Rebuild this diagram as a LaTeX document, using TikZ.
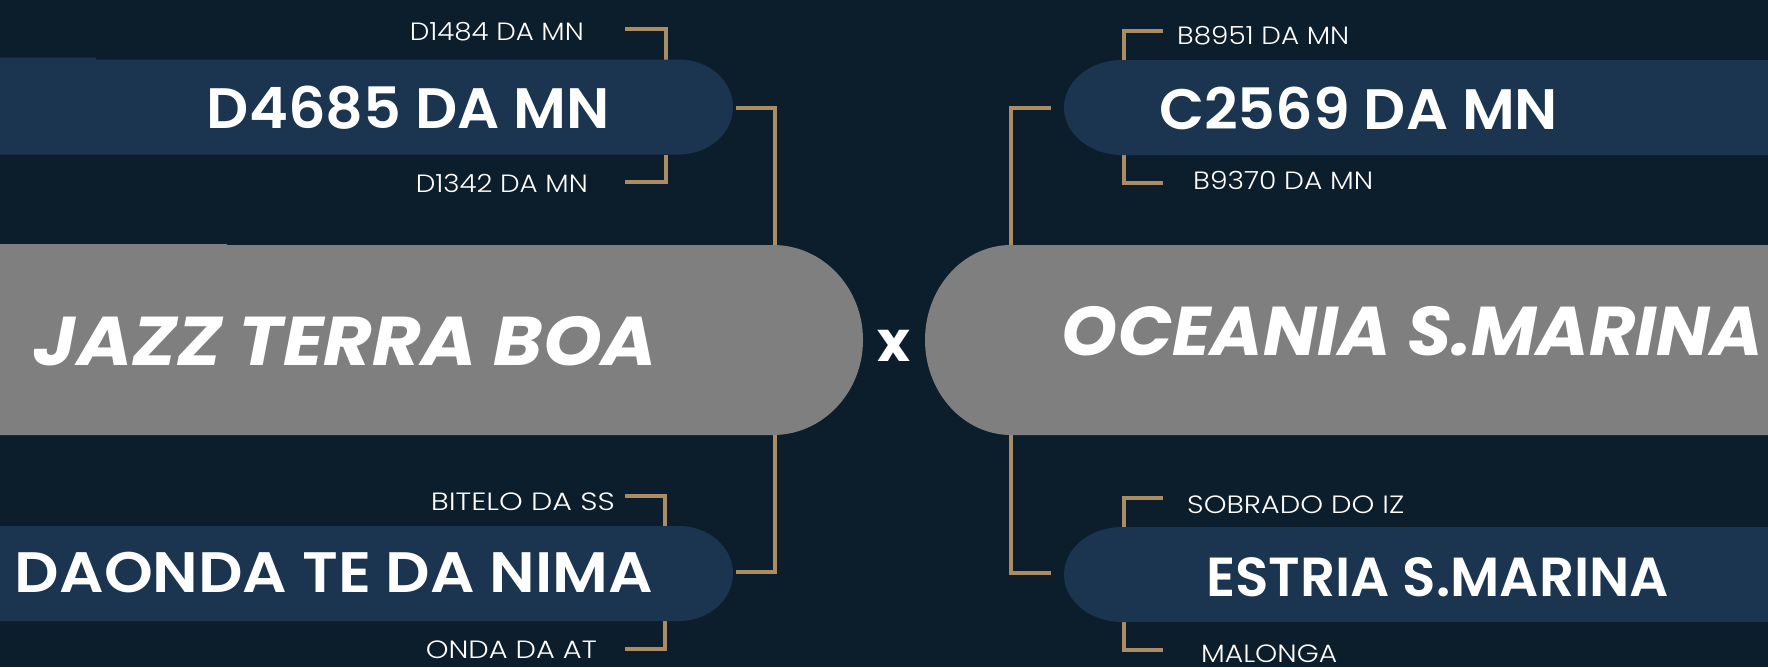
\documentclass[tikz,border=0pt]{standalone}
\usepackage{graphicx}
\usepackage{fontspec}
\setmainfont{Poppins}
\IfFontExistsTF{Poppins Light}{\newfontfamily\lightfont{Poppins Light}}{\newfontfamily\lightfont{Poppins}}
\IfFontExistsTF{Poppins SemiBold}{\newfontfamily\semifont{Poppins SemiBold}}{\newfontfamily\semifont[UprightFont=*-Bold]{Poppins}}
\newcommand{\fitw}[2]{\resizebox{#1pt}{\height}{#2}}
\definecolor{bgnavy}{RGB}{12,30,44}
\definecolor{boxblue}{RGB}{27,53,80}
\definecolor{boxgray}{RGB}{127,127,127}
\definecolor{gold}{RGB}{170,141,98}
\begin{document}
\begin{tikzpicture}[x=1pt,y=-1pt,
  bracket/.style={draw=gold, line width=3.5pt, line join=miter},
  smalllabel/.style={text=white, inner sep=0pt, font=\lightfont\fontsize{25}{25}\selectfont},
  bigname/.style={text=white, inner sep=0pt, font=\semifont\fontsize{57}{57}\selectfont},
  teamname/.style={text=white, inner sep=0pt, font=\fontsize{69}{69}\selectfont\bfseries\itshape},
  bluebox/.style={fill=boxblue},
  graybox/.style={fill=boxgray}]
\useasboundingbox (0,0) rectangle (1768,667);
\fill[bgnavy] (0,0) rectangle (1768,667);

% ---------- named points (box edges and bracket ends) ----------
\coordinate (A-top) at (666,59.5);  \coordinate (A-bot) at (666,154.5);
\coordinate (A-e)   at (736,108);
\coordinate (a1)    at (625,29);    \coordinate (a2) at (625,182);
\coordinate (G-top) at (775,245);   \coordinate (G-bot) at (775,435);
\coordinate (B-top) at (665,526);   \coordinate (B-bot) at (665,621);
\coordinate (B-e)   at (736,572);
\coordinate (b1)    at (625,496);   \coordinate (b2) at (625,649);

\coordinate (C-top) at (1124,60);   \coordinate (C-bot) at (1124,155);
\coordinate (C-w)   at (1051,108);
\coordinate (c1)    at (1163,31);   \coordinate (c2) at (1163,183);
\coordinate (H-top) at (1011,245);  \coordinate (H-bot) at (1011,435);
\coordinate (D-top) at (1124,527);  \coordinate (D-bot) at (1124,622);
\coordinate (D-w)   at (1051,573);
\coordinate (d1)    at (1163,498);  \coordinate (d2) at (1163,650);

% ---------- brackets (behind the boxes) ----------
\draw[bracket] (a1) -| (A-top);
\draw[bracket] (a2) -| (A-bot);
\draw[bracket] (A-e) -| (G-top);
\draw[bracket] (G-bot) |- (B-e);
\draw[bracket] (b1) -| (B-top);
\draw[bracket] (b2) -| (B-bot);

\draw[bracket] (c1) -| (C-top);
\draw[bracket] (c2) -| (C-bot);
\draw[bracket] (C-w) -| (H-top);
\draw[bracket] (H-bot) |- (D-w);
\draw[bracket] (d1) -| (D-top);
\draw[bracket] (d2) -| (D-bot);

% ---------- boxes ----------
\fill[bluebox] (-5,57.5) -- (96,57.5) -- (96,59.5) -- (679,59.5) arc[start angle=-90,end angle=90,x radius=54,y radius=47.5] -- (-5,154.5) -- cycle;
\fill[graybox] (-5,244) -- (227,244) -- (227,245) -- (773,245) arc[start angle=-90,end angle=90,x radius=90,y radius=95] -- (-5,435) -- cycle;
\fill[bluebox] (-5,526) -- (679,526) arc[start angle=-90,end angle=90,x radius=54,y radius=47.5] -- (-5,621) -- cycle;

\fill[bluebox] (1773,60) -- (1122,60) arc[start angle=270,end angle=90,x radius=58,y radius=47.5] -- (1773,155) -- cycle;
\fill[graybox] (1773,245) -- (1011,245) arc[start angle=270,end angle=90,x radius=86,y radius=95] -- (1773,435) -- cycle;
\fill[bluebox] (1773,527) -- (1122,527) arc[start angle=270,end angle=90,x radius=58,y radius=47.5] -- (1773,622) -- cycle;

% ---------- texts ----------
\node[bigname]  (tA) at (408.5,108) {\fitw{403}{D4685 DA MN}};
\node[teamname] (tG) at (345.5,341) {\fitw{623}{JAZZ TERRA BOA}};
\node[bigname]  (tB) at (334,572.5) {\fitw{638}{DAONDA TE DA NIMA}};
\node[bigname]  (tC) at (1358.5,108) {\fitw{399}{C2569 DA MN}};
\node[teamname] (tH) at (1412.5,331) {\fitw{701}{OCEANIA S.MARINA}};
\node[bigname, font=\semifont\fontsize{55}{55}\selectfont] (tD) at (1437.5,577) {\fitw{463}{ESTRIA S.MARINA}};

\node[text=white, inner sep=0pt, font=\fontsize{56}{56}\selectfont\bfseries] (vs) at (894,346) {x};

\node[smalllabel, anchor=east] (la1) at (584,32)  {\fitw{174}{D1484 DA MN}};
\node[smalllabel, anchor=east] (la2) at (588,183) {\fitw{172}{D1342 DA MN}};
\node[smalllabel, anchor=east] (lb1) at (615,502) {\fitw{184}{BITELO DA SS}};
\node[smalllabel, anchor=east] (lb2) at (597,649.5) {\fitw{171}{ONDA DA AT}};
\node[smalllabel, anchor=west] (lc1) at (1177,36)  {\fitw{172}{B8951 DA MN}};
\node[smalllabel, anchor=west] (lc2) at (1193,180) {\fitw{180}{B9370 DA MN}};
\node[smalllabel, anchor=west] (ld1) at (1187,505) {\fitw{217}{SOBRADO DO IZ}};
\node[smalllabel, anchor=west] (ld2) at (1201,654) {\fitw{136}{MALONGA}};
\end{tikzpicture}
\end{document}
